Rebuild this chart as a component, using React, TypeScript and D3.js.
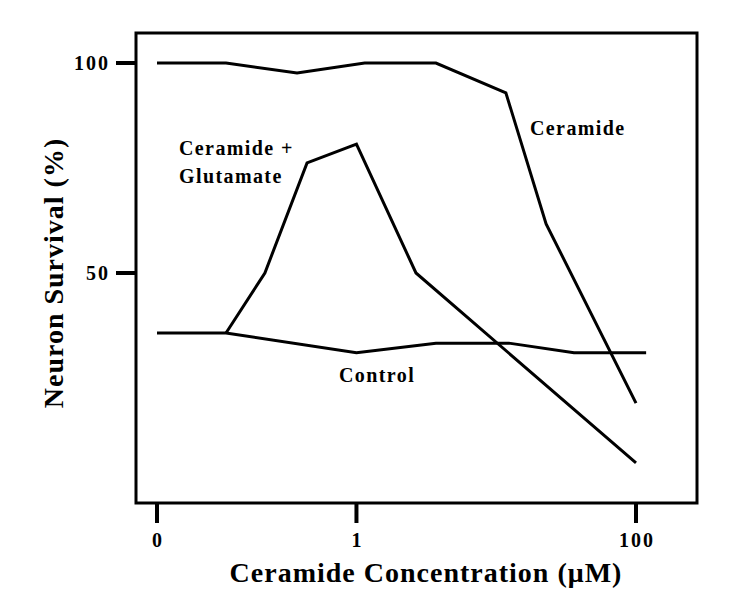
import React, { useEffect, useRef } from "react";
import * as d3 from "d3";

// values (concentration in uM, survival in %)
const concCeramide = [0, 0.0835, 0.354, 1.15, 3.77, 11.9, 23, 100];
const survCeramide = [100, 100, 97.6, 100, 100, 92.9, 61.7, 19];

const concGlutamate = [0.0835, 0.193, 0.424, 1, 2.71, 100];
const survGlutamate = [35.7, 50, 76.2, 80.7, 50, 4.8];

const concControl = [0, 0.0835, 1, 3.77, 12.5, 36.3, 118];
const survControl = [35.7, 35.7, 31, 33.3, 33.3, 31, 31];

const xTicks = [0, 1, 100];
const yTicks = [50, 100];

const FONT = "'Liberation Serif', 'Times New Roman', serif";

export default function App() {
  const ref = useRef<SVGSVGElement | null>(null);

  useEffect(() => {
    const svg = d3.select(ref.current);
    svg.selectAll("*").remove();

    const frame = { left: 136, top: 33, right: 697, bottom: 503 };

    // the axis squeezes 0 next to a log axis: symlog does that
    const x = d3.scaleSymlog().constant(0.04).domain([0, 100]).range([157, 636]);
    const y = d3.scaleLinear().domain([0, 100]).range([483, 63]);

    svg.append("rect")
      .attr("x", frame.left)
      .attr("y", frame.top)
      .attr("width", frame.right - frame.left)
      .attr("height", frame.bottom - frame.top)
      .attr("fill", "none")
      .attr("stroke", "#000")
      .attr("stroke-width", 3);

    // y ticks
    const yg = svg.append("g");
    yg.selectAll("line")
      .data(yTicks)
      .enter()
      .append("line")
      .attr("x1", frame.left - 20)
      .attr("x2", frame.left)
      .attr("y1", d => y(d))
      .attr("y2", d => y(d))
      .attr("stroke", "#000")
      .attr("stroke-width", 4);
    yg.selectAll("text")
      .data(yTicks)
      .enter()
      .append("text")
      .attr("x", 110)
      .attr("y", d => y(d) + 7)
      .attr("text-anchor", "end")
      .attr("font-family", FONT)
      .attr("font-weight", "bold")
      .attr("font-size", 20)
      .attr("letter-spacing", 2)
      .text(d => d);

    // x ticks
    const xg = svg.append("g");
    xg.selectAll("line")
      .data(xTicks)
      .enter()
      .append("line")
      .attr("x1", d => x(d))
      .attr("x2", d => x(d))
      .attr("y1", frame.bottom)
      .attr("y2", frame.bottom + 20)
      .attr("stroke", "#000")
      .attr("stroke-width", 4);
    xg.selectAll("text")
      .data(xTicks)
      .enter()
      .append("text")
      .attr("x", d => x(d) + 1)
      .attr("y", 547)
      .attr("text-anchor", "middle")
      .attr("font-family", FONT)
      .attr("font-weight", "bold")
      .attr("font-size", 20)
      .attr("letter-spacing", 2)
      .text(d => d);

    // lines
    const line = d3.line<[number, number]>()
      .x(d => x(d[0]))
      .y(d => y(d[1]));

    const series: [number[], number[]][] = [
      [concCeramide, survCeramide],
      [concGlutamate, survGlutamate],
      [concControl, survControl],
    ];
    series.forEach(([xs, ys]) => {
      svg.append("path")
        .datum(xs.map((c, i) => [c, ys[i]] as [number, number]))
        .attr("d", line)
        .attr("fill", "none")
        .attr("stroke", "#000")
        .attr("stroke-width", 3)
        .attr("stroke-linejoin", "miter");
    });

    // series labels
    const labels = [
      { t: "Ceramide +", x: 179, y: 155 },
      { t: "Glutamate", x: 179, y: 183 },
      { t: "Ceramide", x: 530, y: 135 },
      { t: "Control", x: 339, y: 382 },
    ];
    svg.selectAll(".lbl")
      .data(labels)
      .enter()
      .append("text")
      .attr("class", "lbl")
      .attr("x", d => d.x)
      .attr("y", d => d.y)
      .attr("font-family", FONT)
      .attr("font-weight", "bold")
      .attr("font-size", 20)
      .attr("letter-spacing", 1.4)
      .text(d => d.t);

    // axis titles
    svg.append("text")
      .attr("x", 426)
      .attr("y", 582)
      .attr("text-anchor", "middle")
      .attr("font-family", FONT)
      .attr("font-weight", "bold")
      .attr("font-size", 28)
      .attr("letter-spacing", 1)
      .text("Ceramide Concentration (\u03bcM)");

    svg.append("text")
      .attr("transform", "translate(63,273) rotate(-90)")
      .attr("text-anchor", "middle")
      .attr("font-family", FONT)
      .attr("font-weight", "bold")
      .attr("font-size", 28)
      .attr("letter-spacing", 1)
      .text("Neuron Survival (%)");
  }, []);

  return (
    <svg
      ref={ref}
      width={739}
      height={612}
      style={{ position: "absolute", left: 0, top: 0, background: "#fff" }}
    />
  );
}
